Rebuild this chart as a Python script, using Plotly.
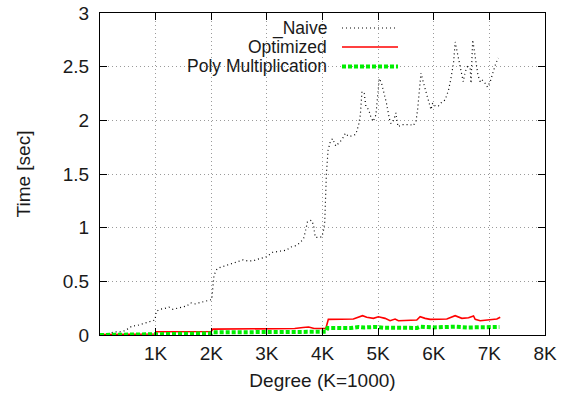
import plotly.graph_objects as go

# Timing runs: polynomial degree vs. elapsed seconds
naive_deg = [0, 100, 200, 270, 360, 450, 510, 580, 660, 750, 830, 920, 990,
             1010, 1080, 1150, 1240, 1310, 1400, 1480, 1560, 1630, 1710, 1780,
             1850, 1940, 2010, 2030, 2050, 2100, 2160, 2250, 2340, 2420, 2490,
             2570, 2660, 2750, 2830, 2910, 3000, 3100, 3190, 3270, 3350, 3430,
             3510, 3600, 3660, 3690, 3730, 3800, 3840, 3850, 3870, 3930, 3990,
             4020, 4040, 4070, 4100, 4140, 4180, 4240, 4290, 4350, 4410, 4470,
             4530, 4600, 4650, 4680, 4710, 4750, 4780, 4830, 4870, 4910, 4960,
             4980, 5020, 5060, 5110, 5150, 5200, 5230, 5280, 5320, 5340, 5360,
             5420, 5500, 5580, 5630, 5680, 5710, 5740, 5770, 5815, 5860, 5900,
             5950, 5980, 6030, 6085, 6145, 6205, 6265, 6305, 6355, 6385, 6415,
             6460, 6505, 6530, 6565, 6605, 6655, 6670, 6700, 6725, 6760, 6795,
             6835, 6865, 6925, 6965, 7015, 7060, 7115, 7160]
naive_sec = [0.0, 0.005, 0.02, 0.03, 0.03, 0.04, 0.06, 0.085, 0.087, 0.10, 0.115,
             0.13, 0.14, 0.22, 0.24, 0.245, 0.26, 0.24, 0.25, 0.26, 0.27, 0.30,
             0.29, 0.30, 0.31, 0.32, 0.33, 0.45, 0.56, 0.61, 0.63, 0.645, 0.66,
             0.675, 0.69, 0.70, 0.69, 0.69, 0.705, 0.715, 0.73, 0.77, 0.775, 0.78,
             0.79, 0.82, 0.83, 0.86, 0.90, 0.96, 1.055, 1.07, 1.025, 0.98, 0.91,
             0.91, 0.915, 0.98, 1.05, 1.5, 1.72, 1.80, 1.83, 1.76, 1.79, 1.82,
             1.88, 1.85, 1.855, 1.87, 1.96, 2.05, 2.27, 2.25, 2.13, 2.10, 2.03,
             1.99, 2.05, 2.19, 2.39, 2.35, 2.25, 2.16, 2.02, 1.97, 2.00, 2.07,
             1.99, 1.94, 1.96, 1.96, 1.96, 1.95, 1.99, 2.10, 2.30, 2.44, 2.35,
             2.27, 2.19, 2.10, 2.16, 2.13, 2.135, 2.17, 2.19, 2.28, 2.38, 2.53,
             2.73, 2.66, 2.53, 2.44, 2.36, 2.45, 2.50, 2.485, 2.345, 2.75, 2.66,
             2.50, 2.42, 2.36, 2.38, 2.345, 2.31, 2.36, 2.44, 2.53, 2.58]

opt_deg = [0, 500, 990, 1010, 1500, 2000, 2030, 2500, 3000, 3500, 3650, 3750,
           3850, 4000, 4060, 4105, 4375, 4555, 4720, 4795, 4915, 5005, 5125,
           5215, 5305, 5365, 5695, 5755, 5845, 5935, 6235, 6385, 6505, 6625,
           6715, 6745, 6835, 7015, 7135, 7195]
opt_sec = [0.005, 0.008, 0.01, 0.03, 0.032, 0.033, 0.055, 0.057, 0.058, 0.06,
           0.07, 0.075, 0.06, 0.058, 0.06, 0.146, 0.146, 0.149, 0.18, 0.165,
           0.155, 0.17, 0.155, 0.133, 0.149, 0.133, 0.14, 0.17, 0.155, 0.146,
           0.149, 0.18, 0.155, 0.16, 0.177, 0.146, 0.133, 0.14, 0.149, 0.165]

poly_deg = [0, 990, 1010, 2000, 2030, 3500, 3650, 3850, 4000, 4060, 4090, 4500,
            4650, 4750, 4950, 5100, 5700, 5760, 6000, 6380, 6600, 6900, 7180]
poly_sec = [0.0, 0.005, 0.012, 0.015, 0.025, 0.027, 0.035, 0.033, 0.028, 0.03,
            0.065, 0.065, 0.075, 0.07, 0.075, 0.068, 0.066, 0.078, 0.07, 0.078,
            0.07, 0.068, 0.075]

x_tick_vals = [1000, 2000, 3000, 4000, 5000, 6000, 7000, 8000]
x_tick_text = ["1K", "2K", "3K", "4K", "5K", "6K", "7K", "8K"]
y_tick_vals = [0, 0.5, 1, 1.5, 2, 2.5, 3]
y_tick_text = ["0", "0.5", "1", "1.5", "2", "2.5", "3"]

series_names = ["_Naive", "Optimized", "Poly Multiplication"]
series_styles = [
    dict(color="#000000", width=1.2, dash="1px,3px"),
    dict(color="#ff0000", width=1.6, dash="solid"),
    dict(color="#00ee00", width=4, dash="4px,2px"),
]

FONT = "Liberation Sans, Arial, Helvetica, sans-serif"
TEXT = "#1a1a1a"

fig = go.Figure()
for name, xs, ys, style in zip(series_names,
                               [naive_deg, opt_deg, poly_deg],
                               [naive_sec, opt_sec, poly_sec],
                               series_styles):
    fig.add_trace(go.Scatter(x=xs, y=ys, mode="lines", name=name, line=style))

# gnuplot-style key: right-aligned labels with line samples on the right
key_rows = [0.9534, 0.8944, 0.8339]
shapes = [dict(type="rect", xref="paper", yref="paper", x0=0.17, x1=0.692,
               y0=0.80, y1=1.0, fillcolor="white", line=dict(width=0),
               layer="between")]
annotations = []
for name, style, ky in zip(series_names, series_styles, key_rows):
    annotations.append(dict(xref="paper", yref="paper", x=0.5146, y=ky,
                            text=name, showarrow=False, xanchor="right",
                            yanchor="middle",
                            font=dict(family=FONT, size=17.5, color=TEXT)))
    shapes.append(dict(type="line", xref="paper", yref="paper", x0=0.5438,
                       x1=0.6697, y0=ky, y1=ky, line=style, layer="above"))

axis_common = dict(
    showline=True, linecolor="#000000", linewidth=1.2, mirror="allticks",
    ticks="inside", ticklen=7, tickcolor="#000000", tickwidth=1,
    showgrid=True, gridcolor="#9a9a9a", gridwidth=1, griddash="1px,3px",
    zeroline=False, automargin=False,
    tickfont=dict(family=FONT, size=19, color=TEXT),
)

fig.update_layout(
    width=573, height=399,
    margin=dict(l=100, r=28, t=13, b=64),
    paper_bgcolor="white", plot_bgcolor="white",
    showlegend=False,
    shapes=shapes, annotations=annotations,
    xaxis=dict(range=[0, 8000], tickvals=x_tick_vals, ticktext=x_tick_text,
               ticklabelstandoff=1,
               title=dict(text="Degree (K=1000)", standoff=10,
                          font=dict(family=FONT, size=19, color=TEXT)),
               **axis_common),
    yaxis=dict(range=[0, 3], tickvals=y_tick_vals, ticktext=y_tick_text,
               ticklabelstandoff=6,
               title=dict(text="Time [sec]", standoff=27,
                          font=dict(family=FONT, size=19, color=TEXT)),
               **axis_common),
)

fig.write_html("out.html")
